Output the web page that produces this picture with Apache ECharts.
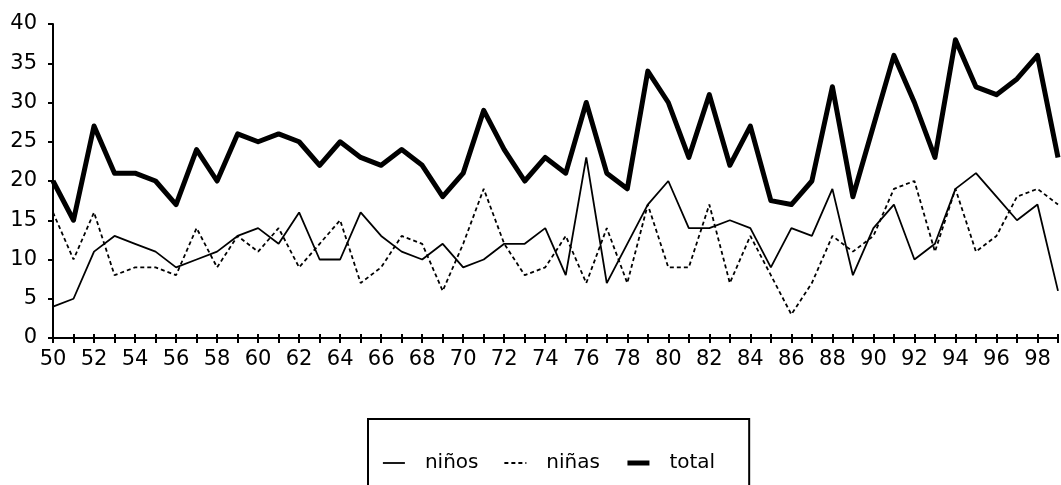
<!DOCTYPE html>
<html>
<head>
<meta charset="utf-8">
<script src="https://cdn.jsdelivr.net/npm/echarts@6/dist/echarts.min.js"></script>
<style>
  html, body { margin: 0; padding: 0; background: #fff; }
  #chart { width: 1061px; height: 485px; }
</style>
</head>
<body>
<div id="chart"></div>
<script>
// años 1950-1999 (solo los dos últimos dígitos)
var years = [];
for (var y = 50; y <= 99; y++) years.push(String(y));

// niños (línea fina continua)
var ninos = [4, 5, 11, 13, 12, 11, 9, 10, 11, 13,
             14, 12, 16, 10, 10, 16, 13, 11, 10, 12,
             9, 10, 12, 12, 14, 8, 23, 7, 12, 17,
             20, 14, 14, 15, 14, 9, 14, 13, 19, 8,
             14, 17, 10, 12, 19, 21, 18, 15, 17, 6];
// niñas (línea fina discontinua)
var ninas = [16, 10, 16, 8, 9, 9, 8, 14, 9, 13,
             11, 14, 9, 12, 15, 7, 9, 13, 12, 6,
             12, 19, 12, 8, 9, 13, 7, 14, 7, 17,
             9, 9, 17, 7, 13, 8, 3, 7, 13, 11,
             13, 19, 20, 11, 19, 11, 13, 18, 19, 17];
// total (línea gruesa)
var total = [20, 15, 27, 21, 21, 20, 17, 24, 20, 26,
             25, 26, 25, 22, 25, 23, 22, 24, 22, 18,
             21, 29, 24, 20, 23, 21, 30, 21, 19, 34,
             30, 23, 31, 22, 27, 17.5, 17, 20, 32, 18,
             27, 36, 30, 23, 38, 32, 31, 33, 36, 23];

var myChart = echarts.init(document.getElementById('chart'));

var font = 'DejaVu Sans';

var option = {
    animation: false,
    backgroundColor: '#fff',
    grid: {
        left: 53,
        right: 3,
        top: 24,
        bottom: 147
    },
    legend: {
        data: ['niños', 'niñas', 'total'],
        left: 368,
        top: 419,
        orient: 'horizontal',
        padding: [34, 34, 40, 14],
        itemWidth: 22,
        itemHeight: 10,
        itemGap: 25,
        borderColor: '#000',
        borderWidth: 2,
        borderRadius: 0,
        itemStyle: { opacity: 0 },          // sin el círculo del icono
        lineStyle: { width: 'inherit' },    // grosor de cada serie
        textStyle: {
            fontFamily: font,
            fontSize: 20,
            color: '#000',
            padding: [0, 0, 0, 15]
        }
    },
    xAxis: [
        {
            type: 'category',
            data: years,
            boundaryGap: false,
            axisLine: { lineStyle: { color: '#000', width: 2 } },
            axisTick: {
                show: true,
                interval: 0,
                length: 5,
                lineStyle: { color: '#000', width: 2 }
            },
            axisLabel: {
                interval: 1,
                margin: 11,
                fontFamily: font,
                fontSize: 21,
                color: '#000'
            },
            splitLine: { show: false }
        },
        {
            // segunda copia solo para las marcas hacia dentro (cruces)
            type: 'category',
            data: years,
            boundaryGap: false,
            position: 'bottom',
            axisLine: { show: false },
            axisTick: {
                show: true,
                inside: true,
                interval: 0,
                length: 4,
                lineStyle: { color: '#000', width: 2 }
            },
            axisLabel: { show: false },
            splitLine: { show: false }
        }
    ],
    yAxis: {
        type: 'value',
        min: 0,
        max: 40,
        interval: 5,
        axisLine: { show: true, lineStyle: { color: '#000', width: 2 } },
        axisTick: {
            show: true,
            length: 5,
            lineStyle: { color: '#000', width: 2 }
        },
        axisLabel: {
            margin: 16,
            fontFamily: font,
            fontSize: 21,
            color: '#000'
        },
        splitLine: { show: false }
    },
    series: [
        {
            name: 'niños',
            type: 'line',
            data: ninos,
            symbol: 'none',
            itemStyle: { color: '#000' },
            lineStyle: { color: '#000', width: 1.8, type: 'solid' }
        },
        {
            name: 'niñas',
            type: 'line',
            data: ninas,
            symbol: 'none',
            itemStyle: { color: '#000' },
            lineStyle: { color: '#000', width: 1.8, type: [4, 3] }
        },
        {
            name: 'total',
            type: 'line',
            data: total,
            symbol: 'none',
            itemStyle: { color: '#000' },
            lineStyle: { color: '#000', width: 5, type: 'solid', join: 'round' }
        }
    ]
};

myChart.setOption(option);
</script>
</body>
</html>
